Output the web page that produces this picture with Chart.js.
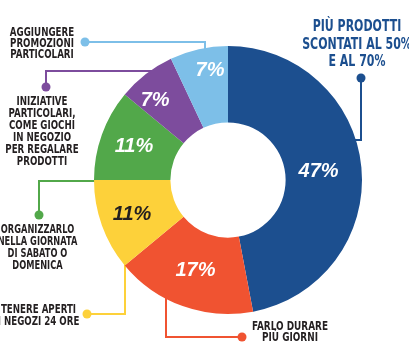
<!DOCTYPE html>
<html>
<head>
<meta charset="utf-8">
<script src="https://cdn.jsdelivr.net/npm/chart.js@4/dist/chart.umd.min.js"></script>
<style>
html,body{margin:0;padding:0;background:#fff;}
#wrap{position:relative;width:409px;height:355px;}
</style>
</head>
<body>
<div id="wrap"><canvas id="c" width="409" height="355"></canvas></div>
<script>
// ---- data ----
const categories = [
  "PIÙ PRODOTTI SCONTATI AL 50% E AL 70%",
  "FARLO DURARE PIÙ GIORNI",
  "TENERE APERTI I NEGOZI 24 ORE",
  "ORGANIZZARLO NELLA GIORNATA DI SABATO O DOMENICA",
  "INIZIATIVE PARTICOLARI, COME GIOCHI IN NEGOZIO PER REGALARE PRODOTTI",
  "AGGIUNGERE PROMOZIONI PARTICOLARI"
];
const values = [47, 17, 11, 11, 7, 7];
const valueLabels = ["47%", "17%", "11%", "11%", "7%", "7%"];

// ---- styles ----
const colors = ["#1c4f8f", "#f05331", "#fdd13a", "#52a84a", "#7d4c9d", "#7dbfe8"];
const labelColors = ["#ffffff", "#ffffff", "#231f20", "#ffffff", "#ffffff", "#ffffff"];
const labelRadius = [91, 96, 102, 100, 108, 111];
const labelAngleNudge = [0, 0, 0, 0, -4.6, 3.3];

// callout text blocks
const callouts = [
  {lines:["PIÙ PRODOTTI","SCONTATI AL 50%","E AL 70%"], x:357, y:27, lh:17.5, color:"#1c4f8f", size:16.5, sx:0.74},
  {lines:["FARLO DURARE","PIÙ GIORNI"], x:290, y:327, lh:11.5, color:"#231f20", size:11.5, sx:0.86},
  {lines:["TENERE APERTI","I NEGOZI 24 ORE"], x:38.5, y:310, lh:12.5, color:"#231f20", size:11.5, sx:0.84},
  {lines:["ORGANIZZARLO","NELLA GIORNATA","DI SABATO O","DOMENICA"], x:37.5, y:230, lh:12, color:"#231f20", size:11.5, sx:0.8},
  {lines:["INIZIATIVE","PARTICOLARI,","COME GIOCHI","IN NEGOZIO","PER REGALARE","PRODOTTI"], x:42, y:102, lh:12, color:"#231f20", size:11.5, sx:0.84},
  {lines:["AGGIUNGERE","PROMOZIONI","PARTICOLARI"], x:42, y:33, lh:11, color:"#231f20", size:11.5, sx:0.84}
];
// leader lines (dot index tells which end gets the dot)
const leaders = [
  {pts:[[361,78],[361,140],[345,140]], dot:0},
  {pts:[[166,290],[166,337],[242,337]], dot:2},
  {pts:[[87,314],[125,314],[125,258]], dot:0},
  {pts:[[39,215],[39,181],[105,181]], dot:0},
  {pts:[[46,87],[46,71],[160,71]], dot:0},
  {pts:[[85,42],[205,42],[205,58]], dot:0}
];

const narrow = '"Liberation Sans Narrow", "DejaVu Sans Condensed", sans-serif';

const leaderPlugin = {
  id:'leaders',
  beforeDatasetsDraw(chart){
    const ctx = chart.ctx;
    ctx.save();
    leaders.forEach((l,i)=>{
      ctx.strokeStyle = colors[i];
      ctx.lineWidth = 2;
      ctx.lineJoin = 'miter';
      ctx.beginPath();
      l.pts.forEach((p,j)=>{ if(j===0) ctx.moveTo(p[0],p[1]); else ctx.lineTo(p[0],p[1]); });
      ctx.stroke();
      const d = l.pts[l.dot];
      ctx.fillStyle = colors[i];
      ctx.beginPath();
      ctx.arc(d[0], d[1], 4.5, 0, Math.PI*2);
      ctx.fill();
    });
    ctx.restore();
  },
  afterDatasetsDraw(chart){
    const ctx = chart.ctx;
    const meta = chart.getDatasetMeta(0);
    ctx.save();
    ctx.textAlign = 'center';
    ctx.textBaseline = 'middle';
    meta.data.forEach((arc,i)=>{
      const a = (arc.startAngle + arc.endAngle)/2 + labelAngleNudge[i]*Math.PI/180;
      const r = labelRadius[i];
      const x = arc.x + Math.cos(a)*r;
      const y = arc.y + Math.sin(a)*r;
      ctx.font = 'italic bold 20px "Liberation Sans", Arial, sans-serif';
      ctx.fillStyle = labelColors[i];
      ctx.fillText(valueLabels[i], x, y);
    });
    callouts.forEach(c=>{
      ctx.fillStyle = c.color;
      ctx.font = 'bold ' + c.size + 'px ' + narrow;
      c.lines.forEach((ln,k)=>{
        ctx.save();
        ctx.translate(c.x, c.y + k*c.lh);
        ctx.scale(c.sx,1);
        ctx.fillText(ln, 0, 0);
        ctx.restore();
      });
    });
    ctx.restore();
  }
};

new Chart(document.getElementById('c'), {
  type:'doughnut',
  data:{
    labels: categories,
    datasets:[{
      data: values,
      backgroundColor: colors,
      borderWidth: 0,
      hoverOffset: 0,
      offset: 0
    }]
  },
  options:{
    responsive:false,
    animation:false,
    cutout:'43%',
    layout:{padding:{left:94, right:47, top:46, bottom:41}},
    plugins:{legend:{display:false}, tooltip:{enabled:false}}
  },
  plugins:[leaderPlugin]
});
</script>
</body>
</html>
